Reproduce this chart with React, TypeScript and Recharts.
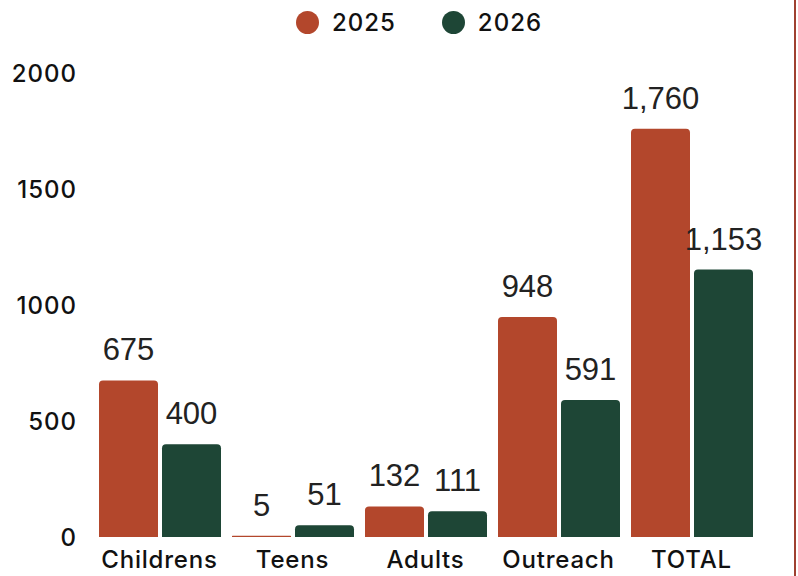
import React from "react";
import { BarChart, Bar, XAxis, YAxis, Legend, LabelList } from "recharts";

const categories = ["Childrens", "Teens", "Adults", "Outreach", "TOTAL"];
const values2025 = [675, 5, 132, 948, 1760];
const values2026 = [400, 51, 111, 591, 1153];
const yTicks = [0, 500, 1000, 1500, 2000];

const data = categories.map((c, i) => ({ name: c, y2025: values2025[i], y2026: values2026[i] }));

const C2025 = "#B3472C";
const C2026 = "#1E4636";
const tickFont = "Inter, 'Open Sans', sans-serif";
const labelFont = "'Liberation Sans', Arial, sans-serif";

const fmt = (v: any) => Number(v).toLocaleString("en-US");

const renderLegend = () => (
  <div style={{ display: "flex", justifyContent: "center", gap: 46, fontFamily: tickFont, fontSize: 24, fontWeight: 500, color: "#111", paddingLeft: 40 }}>
    {[{ c: C2025, t: "2025" }, { c: C2026, t: "2026" }].map((e) => (
      <div key={e.t} style={{ display: "flex", alignItems: "center", gap: 13 }}>
        <span style={{ width: 23, height: 23, borderRadius: 12, background: e.c, display: "inline-block" }} />
        <span style={{ letterSpacing: 1 }}>{e.t}</span>
      </div>
    ))}
  </div>
);

export default function App() {
  return (
    <div style={{ position: "absolute", left: 0, top: 0, width: 798, height: 576, background: "#fff" }}>
      <BarChart width={798} height={576} data={data} margin={{ top: 33, right: 40, left: 0, bottom: 0 }} barSize={59} barGap={4}>
        <Legend verticalAlign="top" height={40} content={renderLegend} wrapperStyle={{ top: 8, left: 0, width: 798 }} />
        <XAxis dataKey="name" axisLine={false} tickLine={false} tickSize={0} tickMargin={14} height={39}
          tick={{ fill: "#111", fontSize: 24, fontWeight: 500, fontFamily: tickFont, letterSpacing: 0.8 }} interval={0} />
        <YAxis domain={[0, 2000]} ticks={yTicks} axisLine={false} tickLine={false} tickSize={0} tickMargin={16} width={93}
          tick={{ fill: "#111", fontSize: 24, fontWeight: 500, fontFamily: tickFont, letterSpacing: 1 }} />
        <Bar dataKey="y2025" fill={C2025} radius={[4, 4, 0, 0]} isAnimationActive={false}>
          <LabelList dataKey="y2025" position="top" offset={20} formatter={fmt}
            style={{ fill: "#222", fontSize: 31, fontFamily: labelFont }} />
        </Bar>
        <Bar dataKey="y2026" fill={C2026} radius={[4, 4, 0, 0]} isAnimationActive={false}>
          <LabelList dataKey="y2026" position="top" offset={20} formatter={fmt}
            style={{ fill: "#222", fontSize: 31, fontFamily: labelFont }} />
        </Bar>
      </BarChart>
      <div style={{ position: "absolute", left: 794, top: 0, width: 2, height: 576, background: "#9E4030" }} />
    </div>
  );
}
